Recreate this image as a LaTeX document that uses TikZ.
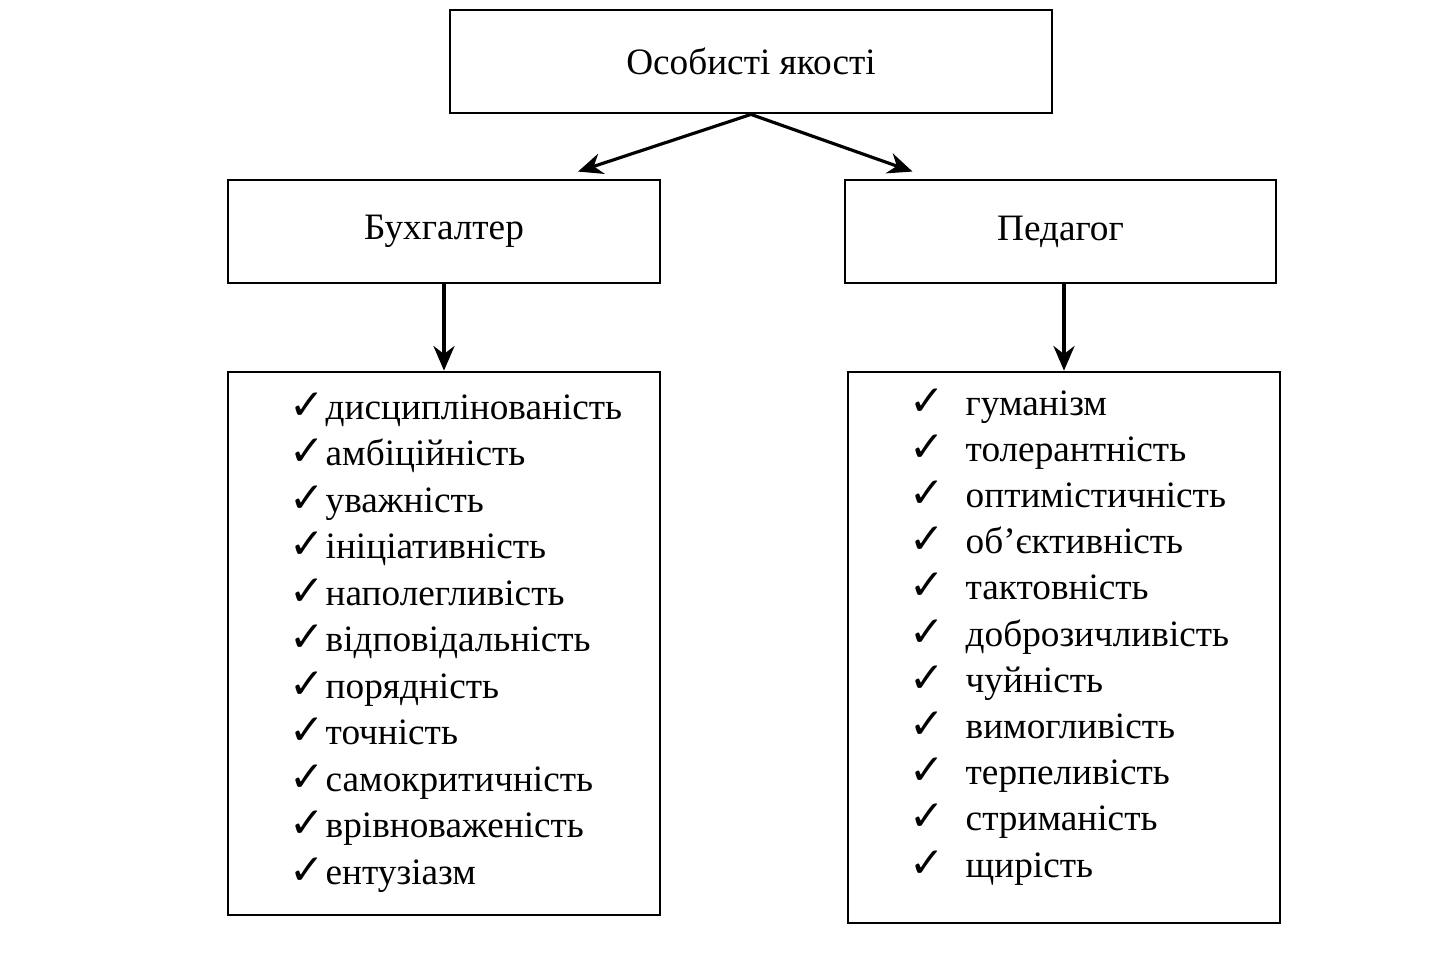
\documentclass[tikz,border=0pt]{standalone}
\usepackage{fontspec}
\setmainfont{Liberation Serif}
\newfontfamily\chkfont{DejaVu Sans}
\usetikzlibrary{arrows.meta,positioning}
\newcommand{\chk}{{\chkfont\bfseries\fontsize{12}{12}\selectfont ✓}}

\begin{document}
\begin{tikzpicture}[x=1cm,y=1cm, every node/.style={font=\fontsize{10.6}{12}\selectfont},
    box/.style={draw, line width=0.8pt, minimum height=1.03cm, inner sep=0pt},
    listbox/.style={draw, line width=0.8pt, minimum width=4.32cm, inner sep=0pt},
    link/.style={line width=0.9pt, -{Stealth[length=7pt,width=6pt]}}]
    \useasboundingbox (0,0) rectangle (14.34,-9.52);
    % top level
    \node[box, minimum width=6.02cm] (top) at (7.51,-0.615) {Особисті якості};
    \node[box, minimum width=4.32cm] (buh) at (4.44,-2.315) {Бухгалтер};
    \node[box, minimum width=4.31cm] (ped) at (10.605,-2.315) {Педагог};
    % lists
    \node[listbox, minimum height=5.43cm] (buhlist) at (4.44,-6.435) {};
    \node[listbox, minimum height=5.51cm] (pedlist) at (10.64,-6.475) {};
    \foreach \item [count=\i] in {дисциплінованість, амбіційність, уважність, ініціативність,
        наполегливість, відповідальність, порядність, точність, самокритичність,
        врівноваженість, ентузіазм} {
      \node[anchor=base west, inner sep=0pt] (bc\i) at (2.89,{-4.19-(\i-1)*0.465}) {\chk};
      \node[anchor=base west, inner sep=0pt] (bt\i) at (3.25,{-4.19-(\i-1)*0.465}) {\item};
    }
    \foreach \item [count=\i] in {гуманізм, толерантність, оптимістичність, об’єктивність,
        тактовність, доброзичливість, чуйність, вимогливість, терпеливість,
        стриманість, щирість} {
      \node[anchor=base west, inner sep=0pt] (pc\i) at (9.09,{-4.15-(\i-1)*0.462}) {\chk};
      \node[anchor=base west, inner sep=0pt] (pt\i) at (9.65,{-4.15-(\i-1)*0.462}) {\item};
    }
    % arrows
    \draw[link] (top.south) -- ([xshift=1.34cm,yshift=2pt]buh.north);
    \draw[link] (top.south) -- ([xshift=-1.48cm,yshift=2pt]ped.north);
    \draw[link] (buh.south) -- (buhlist.north);
    \draw[link] (ped.south -| pedlist.north) -- (pedlist.north);
  \end{tikzpicture}
\end{document}
